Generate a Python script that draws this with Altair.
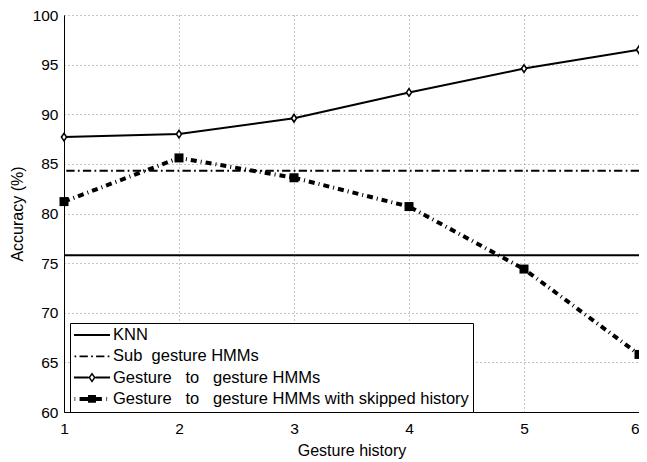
import altair as alt
import pandas as pd

# ---- data ----
history = [1, 2, 3, 4, 5, 6]
g2g_acc = [87.7, 88.0, 89.6, 92.2, 94.6, 96.5]
skipped_acc = [81.2, 85.6, 83.6, 80.7, 74.4, 65.8]
knn_acc = [75.8]
sub_acc = [84.3]
x_ticks = [1, 2, 3, 4, 5, 6]
y_ticks = [60, 65, 70, 75, 80, 85, 90, 95, 100]
series_names = [
    "KNN",
    "Sub\u00a0\u00a0gesture HMMs",
    "Gesture\u00a0\u00a0\u00a0to\u00a0\u00a0\u00a0gesture HMMs",
    "Gesture\u00a0\u00a0\u00a0to\u00a0\u00a0\u00a0gesture HMMs with skipped history",
]

FONT = "Liberation Sans"

g2g_df = pd.DataFrame({"history": history, "acc": g2g_acc})
skip_df = pd.DataFrame({"history": history, "acc": skipped_acc})
knn_df = pd.DataFrame({"acc": knn_acc})
sub_df = pd.DataFrame({"acc": sub_acc})
legend_df = pd.DataFrame({"series": series_names})

x_enc = alt.X(
    "history:Q",
    scale=alt.Scale(domain=[1, 6], nice=False, zero=False),
    axis=alt.Axis(values=x_ticks, format="d", title="Gesture history",
                  labelPadding=9, titlePadding=6,
                  labelAlign={"expr": "datum.value == 6 ? 'right' : 'center'"}),
)
y_enc = alt.Y(
    "acc:Q",
    scale=alt.Scale(domain=[60, 100], nice=False, zero=False),
    axis=alt.Axis(values=y_ticks, title="Accuracy (%)",
                  labelPadding=6, titlePadding=7),
)

knn = alt.Chart(knn_df).mark_rule(color="black", strokeWidth=2).encode(y=y_enc)
sub = alt.Chart(sub_df).mark_rule(
    color="black", strokeWidth=2, strokeDash=[8.3, 3.3, 1.7, 3.3]
).encode(y=y_enc)

skip_line = alt.Chart(skip_df).mark_line(
    color="black", strokeWidth=4, strokeDash=[6, 4, 1, 4]
).encode(x=x_enc, y=y_enc)
skip_pts = alt.Chart(skip_df).mark_point(
    shape="square", filled=True, color="black", size=81, opacity=1
).encode(x=x_enc, y=y_enc)

g2g_line = alt.Chart(g2g_df).mark_line(color="black", strokeWidth=2).encode(x=x_enc, y=y_enc)
g2g_pts = alt.Chart(g2g_df).mark_point(
    shape="M0,-1.25L0.85,0L0,1.25L-0.85,0Z", filled=False, fill="white",
    stroke="black", strokeWidth=1.6, size=36, opacity=1
).encode(x=x_enc, y=y_enc)

# legend symbols: composite line + marker glyphs (unit square coordinates)
sym_knn = "M-1,-0.056H1V0.056H-1Z"
sym_sub = ("M-0.97,-0.05H-0.876V0.05H-0.97Z"
           "M-0.693,-0.05H-0.232V0.05H-0.693Z"
           "M-0.049,-0.05H0.045V0.05H-0.049Z"
           "M0.228,-0.05H0.689V0.05H0.228Z"
           "M0.872,-0.05H0.966V0.05H0.872Z")
sym_g2g = ("M-1,-0.056H-0.19V0.056H-1Z"
           "M0.19,-0.056H1V0.056H0.19Z"
           "M0,-0.28L0.2,0L0,0.28L-0.2,0Z"
           "M0,-0.15L-0.1,0L0,0.15L0.1,0Z")
sym_skip = ("M-0.97,-0.11H-0.93V0.11H-0.97Z"
            "M-0.69,-0.11H-0.2V0.11H-0.69Z"
            "M-0.22,-0.22H0.22V0.22H-0.22Z"
            "M0.2,-0.11H0.55V0.11H0.2Z"
            "M0.8,-0.11H0.84V0.11H0.8Z")

legend_layer = alt.Chart(legend_df).mark_point(
    filled=True, color="black", opacity=0
).encode(
    shape=alt.Shape(
        "series:N",
        scale=alt.Scale(domain=series_names, range=[sym_knn, sym_sub, sym_g2g, sym_skip]),
        legend=alt.Legend(
            title=None, orient="none", legendX=6, legendY=308, direction="vertical",
            padding=4, strokeColor="black", fillColor="white",
            labelFont=FONT, labelFontSize=16.5, labelColor="black", labelLimit=0,
            labelOffset=3, symbolSize=1296, clipHeight=16, rowPadding=4.3,
            symbolOpacity=1, symbolFillColor="black", symbolStrokeWidth=0,
            symbolStrokeColor="black", cornerRadius=0,
        ),
    )
)

chart = alt.layer(
    knn, sub, skip_line, g2g_line, skip_pts, g2g_pts, legend_layer
).properties(
    width=575, height=397,
    autosize=alt.AutoSizeParams(type="none"),
    padding={"left": 56, "top": 7, "right": 0, "bottom": 50},
).configure_view(stroke=None).configure_axis(
    labelFont=FONT, titleFont=FONT, labelFontSize=15.5, titleFontSize=16,
    labelColor="black", titleColor="black", titleFontWeight="normal",
    domainColor="black", domainWidth=1, ticks=False,
    grid=True, gridColor="#8a8a8a", gridDash=[1, 3], gridWidth=1, gridOpacity=1,
).configure_axisX(labelFlush=False)

chart.save("out.html", embed_options={"renderer": "svg", "actions": False})
